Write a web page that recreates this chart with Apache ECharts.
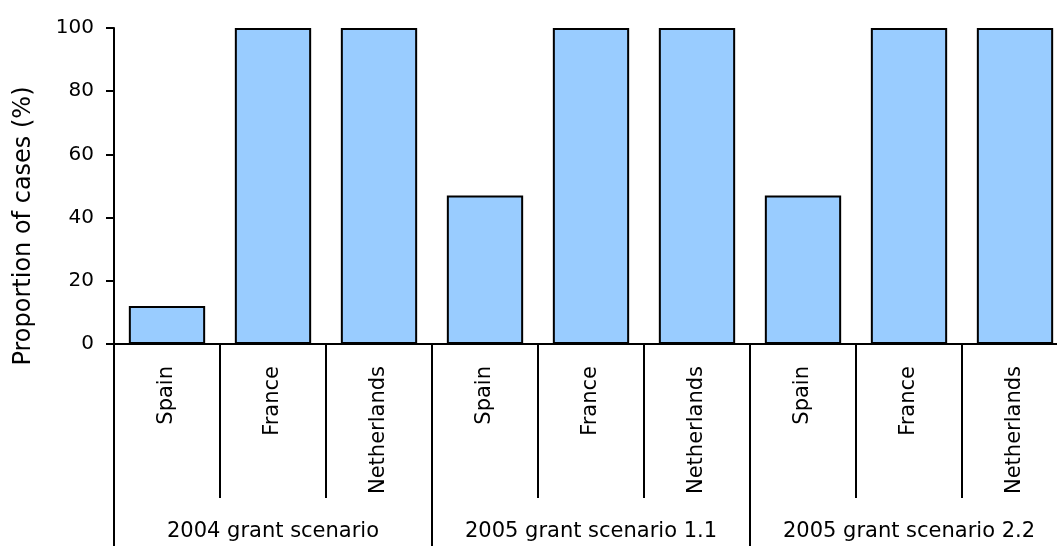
<!DOCTYPE html>
<html>
<head>
<meta charset="utf-8">
<script src="https://cdn.jsdelivr.net/npm/echarts@6/dist/echarts.min.js"></script>
<style>
html,body{margin:0;padding:0;background:#fff;overflow:hidden;width:1057px;height:546px;}
#chart{width:1068px;height:546px;}
</style>
</head>
<body>
<div id="chart"></div>
<script>
const countries = ['Spain','France','Netherlands','Spain','France','Netherlands','Spain','France','Netherlands'];
const groups = ['2004 grant scenario','2005 grant scenario 1.1','2005 grant scenario 2.2'];
const values = [12,100,100,47,100,100,47,100,100];
const yTicks = [0,20,40,60,80,100];
const yTitle = 'Proportion of cases (%)';

const FONT = 'DejaVu Sans';
const chart = echarts.init(document.getElementById('chart'), null, {renderer:'canvas'});
chart.setOption({
  animation:false,
  backgroundColor:'#ffffff',
  grid:{left:114, top:28, right:0, bottom:202, containLabel:false},
  graphic:[{
    type:'text', x:24, y:226, rotation:Math.PI/2,
    style:{text:yTitle, fill:'#000', font:'24px "DejaVu Sans"', align:'center', verticalAlign:'middle'}
  }],
  xAxis:[
    {
      type:'category', data:countries, position:'bottom',
      axisLine:{show:true, lineStyle:{color:'#000', width:2}},
      axisTick:{show:true, interval:0, length:154, alignWithLabel:false, lineStyle:{color:'#000', width:2}},
      axisLabel:{interval:0, rotate:90, margin:22, color:'#000', fontFamily:FONT, fontSize:21}
    },
    {
      type:'category', data:groups, position:'bottom', offset:0,
      axisLine:{show:false},
      axisTick:{show:true, interval:0, length:202, alignWithLabel:false, lineStyle:{color:'#000', width:2}},
      axisLabel:{interval:0, margin:177, color:'#000', fontFamily:FONT, fontSize:21}
    }
  ],
  yAxis:{
    type:'value', min:yTicks[0], max:yTicks[yTicks.length-1], interval:20,
    axisLine:{show:true, lineStyle:{color:'#000', width:2}},
    axisTick:{show:true, length:8, lineStyle:{color:'#000', width:2}},
    axisLabel:{margin:20, color:'#000', fontFamily:FONT, fontSize:20},
    splitLine:{show:false}
  },
  series:[{
    type:'bar', data:values, xAxisIndex:0,
    barCategoryGap:'28%',
    itemStyle:{color:'#99CCFF', borderColor:'#000', borderWidth:2}
  }]
});
</script>
</body>
</html>
